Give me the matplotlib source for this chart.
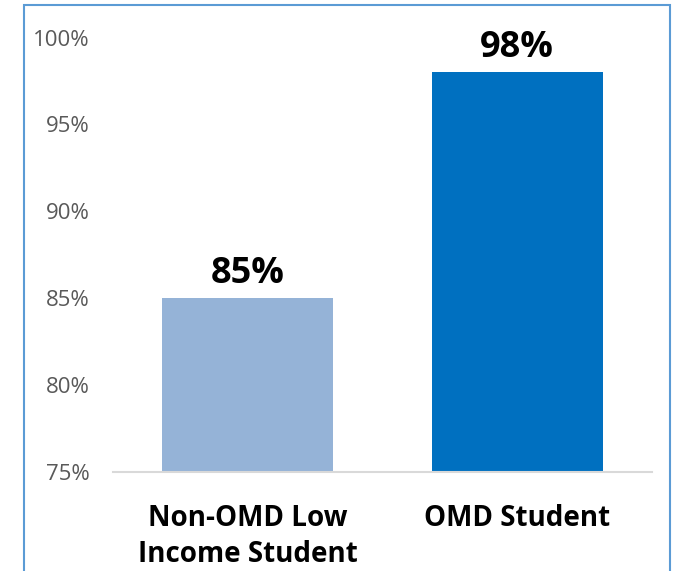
import matplotlib.pyplot as plt
from matplotlib.patches import Rectangle

categories = ["Non-OMD Low\nIncome Student", "OMD Student"]
values = [85, 98]
colors = ["#95B3D7", "#0070C0"]
yticks = [75, 80, 85, 90, 95, 100]

plt.rcParams['font.family'] = ['Open Sans', 'DejaVu Sans']

fig = plt.figure(figsize=(6.77, 5.71), dpi=100)
ax = fig.add_axes([113 / 677, 1 - 472 / 571, 539 / 677, 434.5 / 571])

x = range(len(categories))
bars = ax.bar(x, values, width=0.635, color=colors, bottom=0)
for xi, v in zip(x, values):
    ax.text(xi, v + 0.35, f"{v}%", ha="center", va="bottom",
            fontsize=26, fontweight="bold", color="black")

ax.set_xlim(-0.5, 1.5)
ax.set_ylim(75, 100)
ax.set_yticks(yticks)
ax.set_yticklabels([f"{t}%" for t in yticks], fontsize=16, color="#595959")
ax.set_xticks(list(x))
ax.set_xticklabels(categories, fontsize=20, fontweight="bold", color="black",
                   va="top", linespacing=1.32)
ax.tick_params(axis="both", length=0)
ax.tick_params(axis="x", pad=23)
ax.tick_params(axis="y", pad=17)
for s in ["top", "right", "left"]:
    ax.spines[s].set_visible(False)
ax.spines["bottom"].set_color("#D9D9D9")
ax.spines["bottom"].set_linewidth(1.5)

# outer chart border (bottom edge is cut off in the reference)
fig.patches.append(Rectangle((24 / 677, -0.05), 646 / 677, 1.05 - 5 / 571,
                             transform=fig.transFigure, fill=False,
                             edgecolor="#5B9BD5", linewidth=1.5))

fig.savefig("out.png", dpi=100)
